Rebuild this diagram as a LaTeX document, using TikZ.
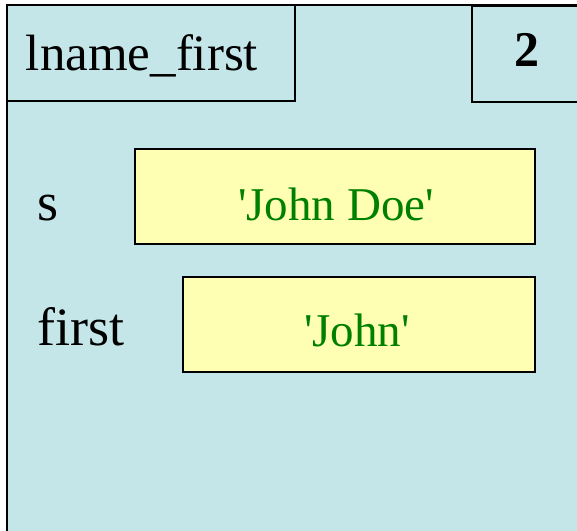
\documentclass[tikz,border=0pt]{standalone}
\usepackage{fontspec}
\setmainfont{Liberation Serif}
\definecolor{framebg}{HTML}{C4E6E9}
\definecolor{valbg}{HTML}{FFFFB3}
\definecolor{valtext}{HTML}{008000}
\begin{document}
\begin{tikzpicture}[x=1pt,y=-1pt,
  edge/.style={draw=black,line width=1.5pt},
  varname/.style={font=\fontsize{54}{56}\selectfont,anchor=base,inner sep=0pt},
  valbox/.style={edge,fill=valbg,rectangle,inner sep=0pt},
  valtxt/.style={font=\fontsize{47}{50}\selectfont,text=valtext,anchor=base,inner sep=0pt}]
\useasboundingbox (0,0) rectangle (577,530);
\clip (0,0) rectangle (577,530);
% call frame
\path[edge,fill=framebg] (7,5) rectangle (600,560);
\coordinate (frameTL) at (7,5);
% header boxes
\node[edge,rectangle,minimum width=288pt,minimum height=96pt,inner sep=0pt] (namebox) at (151,53) {};
\node[font=\fontsize{51}{53}\selectfont,anchor=base,inner sep=0pt] (nametext) at (142,70) {lname\_first};
\node[edge,rectangle,minimum width=140pt,minimum height=96pt,inner sep=0pt,anchor=north west] (pcbox) at (471,5) {};
\node[font=\bfseries\fontsize{50}{52}\selectfont,anchor=base,inner sep=0pt] (pctext) at (527,66) {2};
% variables
\node[valbox,minimum width=400pt,minimum height=95pt] (sbox) at (335,196.5) {};
\node[valtxt] (stext) at (336,220) {\textquotesingle John Doe\textquotesingle};
\node[varname] (slabel) at (48,220) {s};
\node[valbox,minimum width=352pt,minimum height=95pt] (fbox) at (359,324.5) {};
\node[valtxt] (ftext) at (357,346) {\textquotesingle John\textquotesingle};
\node[varname] (flabel) at (81,345) {first};
\end{tikzpicture}
\end{document}
